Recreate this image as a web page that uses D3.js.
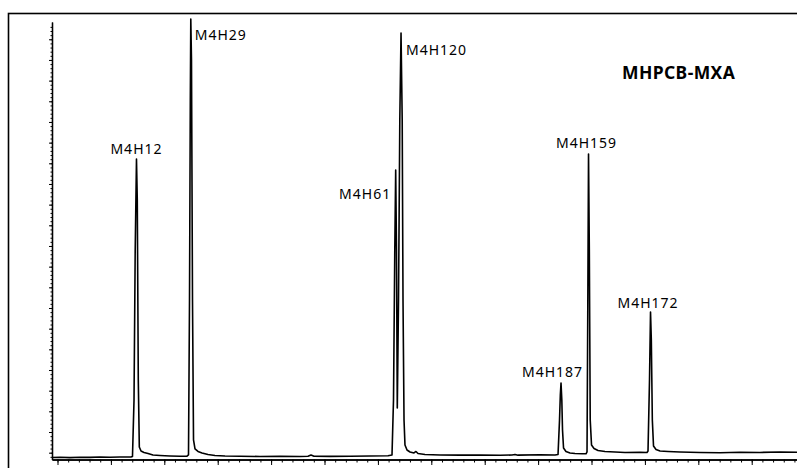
<!DOCTYPE html>
<html>
<head>
<meta charset="utf-8">
<script src="https://cdn.jsdelivr.net/npm/d3@7"></script>
<style>
  body { margin: 0; background: #fff; }
  text { font-family: "Noto Sans", "Open Sans", sans-serif; }
</style>
</head>
<body>
<div id="chart"></div>
<script>
// chromatogram trace, [retention time (min), response]
var trace = [
  [13.897,-1.16],[14.047,-1.11],[14.234,-1.19],[14.421,-1.09],[14.609,-1.14],[14.796,-1.04],[14.983,-1.11],[15.170,-1.06],[15.376,-1.04],
  [15.404,-0.92],[15.433,12.75],[15.455,49.03],[15.479,71.04],[15.494,61.13],[15.513,17.59],[15.532,1.38],[15.564,0.41],[15.620,0.05],
  [15.695,-0.19],[15.788,-0.56],[15.919,-0.68],[16.107,-0.80],[16.294,-0.87],[16.425,-0.85],
  [16.453,-0.56],[16.472,36.94],[16.487,85.32],[16.496,104.91],[16.509,94.99],[16.528,36.94],[16.547,3.07],[16.575,0.90],[16.631,0.29],
  [16.706,-0.07],[16.818,-0.44],[16.949,-0.68],[17.137,-0.80],[17.418,-0.87],[17.792,-0.92],[18.167,-0.90],[18.541,-0.94],[18.691,-0.87],
  [18.747,-0.56],[18.803,-0.87],[19.103,-0.90],[19.478,-0.85],[19.852,-0.80],[20.189,-0.75],
  [20.264,-0.56],[20.292,12.75],[20.316,49.03],[20.333,68.38],[20.348,49.03],[20.363,10.79],[20.386,36.94],[20.410,80.48],[20.433,101.52],
  [20.455,80.48],[20.470,36.94],[20.489,7.91],[20.507,1.86],[20.545,0.65],[20.601,0.17],[20.676,-0.07],[20.713,0.29],[20.751,-0.19],
  [20.882,-0.44],[21.163,-0.56],[21.537,-0.60],[21.912,-0.56],[22.287,-0.63],[22.511,-0.56],[22.567,-0.44],[22.624,-0.60],[23.036,-0.51],[23.316,-0.56],
  [23.373,-0.44],[23.401,7.91],[23.416,13.96],[23.429,16.86],[23.444,12.75],[23.457,5.49],[23.476,1.14],[23.522,0.29],[23.597,-0.07],
  [23.691,-0.19],[23.822,-0.27],[23.897,-0.27],
  [23.916,0.17],[23.931,36.94],[23.944,72.25],[23.959,49.03],[23.976,7.91],[24.000,1.86],[24.047,1.02],[24.122,0.53],[24.253,0.29],
  [24.440,0.17],[24.627,0.05],[24.908,0.10],[25.039,0.05],
  [25.058,0.41],[25.086,17.59],[25.105,34.03],[25.120,27.26],[25.139,7.91],[25.161,1.62],[25.208,0.77],[25.283,0.41],[25.433,0.29],
  [25.657,0.17],[26.032,0.05],[26.406,-0.02],[26.781,0.12],[27.155,0.05],[27.530,0.17],[27.848,0.10]
];

// peak labels
var peakNames = ["M4H12", "M4H29", "M4H61", "M4H120", "M4H187", "M4H159", "M4H172"];
var peakTimes = [15.479, 16.496, 20.333, 20.433, 23.429, 23.944, 25.105];
var peakHeights = [71.04, 104.91, 68.38, 101.52, 16.86, 72.25, 34.03];

var title = "MHPCB-MXA";

// label placement next to each peak top (anchor, dx, dy in px)
var labelPlace = [
  ["middle", 0, -5],
  ["start", 4, 21],
  ["end", -4.5, 29],
  ["start", 5, 22],
  ["start", -39, -6],
  ["middle", -2, -6],
  ["middle", -2.5, -4]
];

var width = 797
var height = 468

var svg = d3.select("#chart")
  .append("svg")
    .attr("width", width)
    .attr("height", height)

// outer frame
svg.append("rect")
  .attr("x", 8.5)
  .attr("y", 13.5)
  .attr("width", 800)
  .attr("height", 500)
  .attr("fill", "none")
  .attr("stroke", "#000")
  .attr("stroke-width", 1.6)

var x = d3.scaleLinear().domain([13.897, 27.848]).range([52, 797]);
var y = d3.scaleLinear().domain([-1.65, 104.18]).range([459.5, 22]);

// x axis: minor every 0.2 min, major every minute
var xMinor = svg.append("g")
  .attr("transform", "translate(0,459.5)")
  .call(d3.axisBottom(x).tickValues(d3.range(14, 27.9, 0.2)).tickSize(3).tickSizeOuter(0).tickFormat(""))
var xMajor = svg.append("g")
  .attr("transform", "translate(0,459.5)")
  .call(d3.axisBottom(x).tickValues(d3.range(14, 28, 1)).tickSize(5.5).tickSizeOuter(0).tickFormat(""))

var yMinor = svg.append("g")
  .attr("transform", "translate(52,0)")
  .call(d3.axisLeft(y).tickValues(d3.range(-1, 104, 1)).tickSize(1.5).tickSizeOuter(0).tickFormat(""))
var yMajor = svg.append("g")
  .attr("transform", "translate(52,0)")
  .call(d3.axisLeft(y).tickValues(d3.range(0, 101, 5)).tickSize(3).tickSizeOuter(0).tickFormat(""))

svg.selectAll(".domain").attr("stroke", "#000").attr("stroke-width", 1.3)
svg.selectAll(".tick line").attr("stroke", "#000").attr("stroke-width", 1)

var line = d3.line()
  .x(function(d) { return x(d[0]); })
  .y(function(d) { return y(d[1]); })

svg.append("path")
  .datum(trace)
  .attr("d", line)
  .attr("fill", "none")
  .attr("stroke", "#000")
  .attr("stroke-width", 1.6)
  .attr("stroke-linejoin", "round")

svg.selectAll(".peaklabel")
  .data(peakNames)
  .enter()
  .append("text")
    .attr("class", "peaklabel")
    .attr("x", function(d, i) { return x(peakTimes[i]) + labelPlace[i][1]; })
    .attr("y", function(d, i) { return y(peakHeights[i]) + labelPlace[i][2]; })
    .attr("text-anchor", function(d, i) { return labelPlace[i][0]; })
    .style("font-size", "14px")
    .style("letter-spacing", "1px")
    .text(function(d) { return d; })

svg.append("text")
  .attr("x", 622)
  .attr("y", 79)
  .style("font-size", "17.5px")
  .style("font-weight", "bold")
  .style("letter-spacing", "0.4px")
  .text(title)
</script>
</body>
</html>
